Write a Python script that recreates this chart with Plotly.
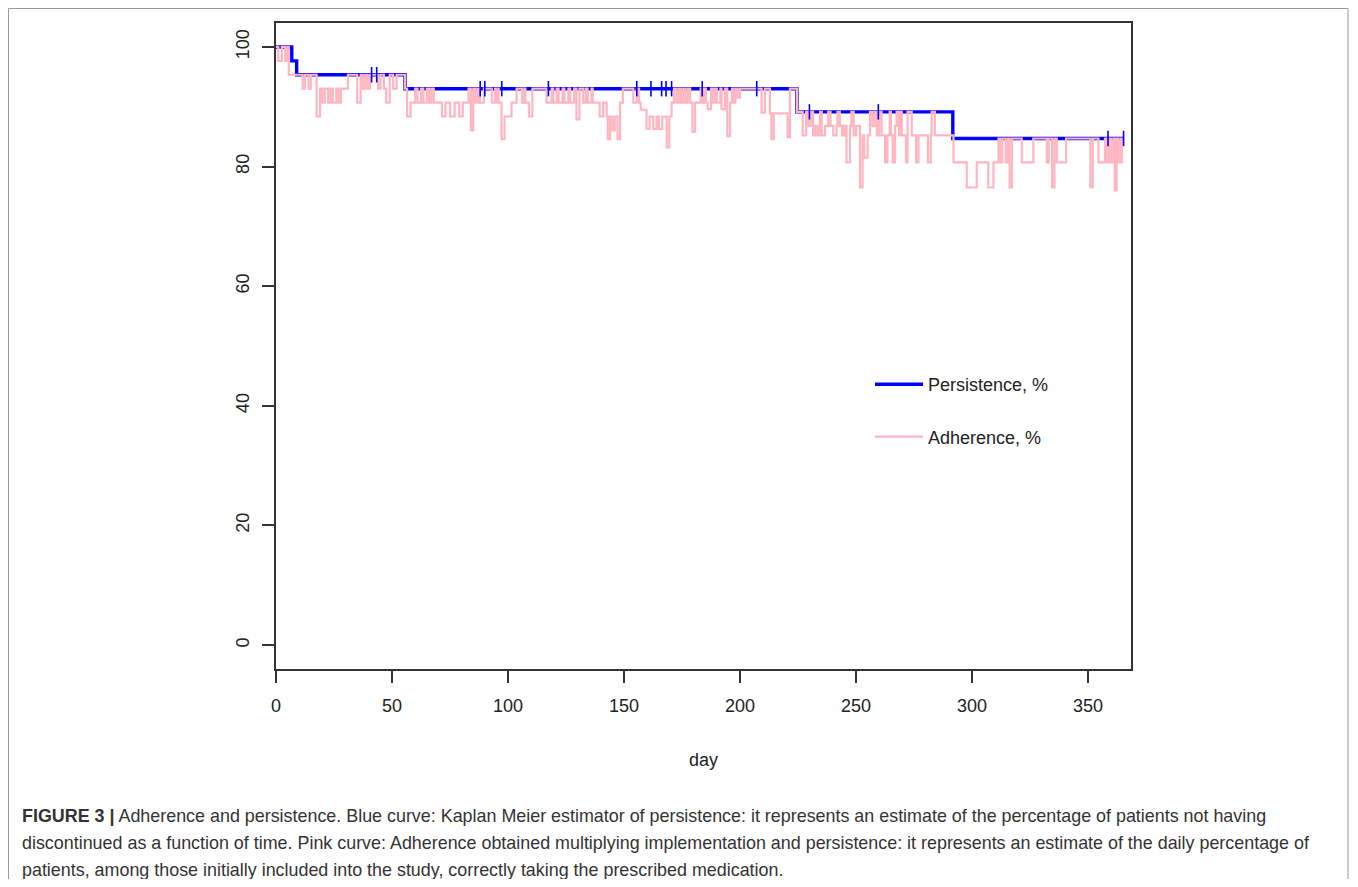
import numpy as np
import plotly.graph_objects as go

# ---------------- data ----------------
# Kaplan-Meier persistence (%) : step change days and levels
pers_day = [0, 6.8, 8.9, 55.6, 224.5, 291.7, 365.5]
pers_pct = [100, 97.67, 95.35, 93.02, 89.15, 84.69, 84.69]

# censoring times (tick marks on the persistence curve)
cens_day = [41.2, 43.4, 88.0, 90.0, 97.3, 117.4, 155.5, 161.6, 166.2, 168.1,
            170.5, 183.7, 207.2, 229.9, 259.6, 358.6, 365.3]

# Adherence (%) : step change days and levels
adh_day = [0, 1, 2.5, 4, 5, 5.5,
           11.5, 12.5, 14, 15, 17.5, 19, 20, 21, 22.5, 23.5, 24.5, 26, 27, 28, 31, 35, 36.5, 37.5,
           38.5, 39.5, 40.5, 44, 45, 46.5, 47.5, 49, 50.5, 52,
           55.6, 56.5, 58, 60, 61, 62.5, 63.5, 65, 66, 67, 68, 71.5, 73, 75, 77, 79, 80.5, 83, 84,
           85, 86, 87,
           87.9, 89.6, 93, 94.4, 94.8, 95.8, 96, 97.2, 98.5, 101.5, 103.7, 106, 107, 107.5, 109,
           110.5, 116.6, 118.8, 119.5, 121, 121.8, 123.5, 124.3, 126, 126.8, 128.5, 129.5, 130.8,
           132.4, 133.5, 134.3, 136, 136.5, 139.5, 141, 142.5, 143, 144, 145, 146, 147.2, 148.3,
           149.5, 154, 155.5, 156.5, 157.2, 159.7, 161, 162.6, 164, 165, 166.5, 168.4, 169.5,
           170.5, 171.5, 172.5, 173.5, 174.5, 175.5, 176.5, 177.5, 178.5, 179.5, 180.6, 183,
           183.8, 184.7, 185.3, 186, 187.5, 188, 189, 190, 191.5, 192, 193.5, 194.5, 195.7, 196.5,
           197, 198, 199, 200, 209.3, 210.7, 212.9, 213.5, 214.5, 220.5, 221.5,
           224.5, 227, 228.5, 229.5, 230.5, 231.5, 232.5, 233.5, 234.5, 235.2, 236.6, 238, 239,
           240.2, 241.6, 242, 243, 244, 245, 245.9, 247.4, 248, 249, 250, 251.7, 252.8, 253.5,
           255, 256, 257, 258, 259, 260, 261, 262.5, 263.5, 264.5, 265, 265.8, 266.8, 267.5,
           268.5, 269, 269.7, 271.5, 272.2, 274, 275.9, 276.9, 281, 282.2, 282.6, 284,
           292, 297.7, 302, 307, 309.2, 311.4, 312, 313, 314.5, 315.5, 316.2, 317.2, 321.4,
           326.4, 332.2, 333, 334.5, 335.5, 336.5, 340.5, 351, 352, 354.5, 357.3, 358, 359, 360,
           361, 361.5, 362.3, 363, 364, 364.5, 365]
adh_pct = [100, 97.67, 100, 97.67, 100, 95.35,
           93.02, 95.35, 93.02, 95.35, 88.37, 93.02, 90.70, 93.02, 90.70, 93.02, 90.70, 93.02, 90.70, 93.02, 95.35, 90.70, 95.35, 93.02,
           95.35, 93.02, 95.35, 93.02, 95.35, 93.02, 90.70, 95.35, 93.02, 95.35,
           93.02, 88.37, 90.70, 93.02, 90.70, 93.02, 90.70, 93.02, 90.70, 93.02, 90.70, 88.37, 90.70, 88.37, 90.70, 88.37, 90.70, 93.02, 86.05,
           93.02, 90.70, 93.02,
           90.70, 93.02, 90.70, 93.02, 90.70, 93.02, 90.70, 84.60, 88.37, 90.70, 93.02, 90.70, 93.02, 90.70, 88.37,
           93.02, 90.70, 93.02, 90.70, 93.02, 90.70, 93.02, 90.70, 93.02, 90.70, 93.02, 87.90, 93.02,
           90.70, 93.02, 90.70, 93.02, 90.70, 88.37, 90.70, 88.37, 84.60, 88.37, 86.05, 88.37, 84.60, 90.70,
           93.02, 90.70, 93.02, 90.70, 89.50, 86.30, 88.37, 86.30, 88.37, 86.30, 88.37, 83.20, 88.37,
           90.70, 93.02, 90.70, 93.02, 90.70, 93.02, 90.70, 93.02, 90.70, 85.80, 90.70, 93.02,
           90.70, 93.02, 90.70, 89.60, 93.02, 90.70, 93.02, 90.70, 93.02, 89.60, 93.02, 85.10, 90.70, 93.02,
           90.70, 93.02, 91.50, 93.02, 89.00, 93.02, 88.90, 84.60, 88.90, 84.90, 93.02,
           89.15, 85.20, 89.15, 86.80, 89.15, 85.20, 86.80, 85.20, 89.15, 85.20, 86.80, 89.15, 86.80,
           85.20, 86.80, 89.15, 86.80, 85.20, 86.80, 80.70, 86.80, 89.15, 85.20, 86.80, 76.50, 85.20, 81.50,
           85.20, 89.15, 86.80, 89.15, 85.20, 89.15, 85.20, 80.70, 85.20, 89.15, 85.20, 80.70, 86.80, 89.15,
           85.20, 89.15, 85.20, 80.70, 89.15, 85.20, 80.70, 85.20, 80.70, 85.20, 89.15, 85.20,
           80.70, 76.50, 80.70, 76.50, 80.70, 84.69, 80.70, 84.69, 80.70, 84.69, 76.50, 84.69, 80.70,
           84.69, 80.70, 84.69, 76.50, 84.69, 80.70, 84.69, 76.50, 84.69, 80.70, 84.69, 80.70, 84.69, 80.70,
           84.69, 76.00, 84.69, 80.70, 84.69, 80.70, 80.70]

x_ticks = [0, 50, 100, 150, 200, 250, 300, 350]
y_ticks = [0, 20, 40, 60, 80, 100]

legend_names = ["Persistence, %", "Adherence, %"]
x_title = "day"
caption_lines = [
    "<b>FIGURE 3 |</b> Adherence and persistence. Blue curve: Kaplan Meier estimator of persistence: it represents an estimate of the percentage of patients not having",
    "discontinued as a function of time. Pink curve: Adherence obtained multiplying implementation and persistence: it represents an estimate of the daily percentage of",
    "patients, among those initially included into the study, correctly taking the prescribed medication.",
]

# ---------------- layout geometry (page pixels; body has an 8px margin) ----------------
OFF = 8
W, H = 1358 - 2 * OFF, 887 - 2 * OFF
L, R, T, B = 276, 1131, 23, 669          # plot box in page pixels
PW, PH = R - L, B - T


def px(x):
    return (x - L) / PW


def py(y):
    return (B - y) / PH


# censor mark heights from the KM step function
idx = np.searchsorted(np.array(pers_day), np.array(cens_day), side="right") - 1
cens_pct = [pers_pct[i] for i in idx]

BLUE = "#0000FF"
PINK = "#FFB6C1"
FONT = "Liberation Sans, Arial, sans-serif"

fig = go.Figure()
fig.add_trace(go.Scatter(x=pers_day, y=pers_pct, mode="lines", line_shape="hv",
                         line=dict(color=BLUE, width=3.4), name=legend_names[0],
                         legendgroup="p"))
fig.add_trace(go.Scatter(x=adh_day, y=adh_pct, mode="lines", line_shape="hv",
                         line=dict(color=PINK, width=2.2), name=legend_names[1],
                         legendgroup="a"))
fig.add_trace(go.Scatter(x=cens_day, y=cens_pct, mode="markers", showlegend=False,
                         marker=dict(symbol="line-ns", size=11,
                                     line=dict(color=BLUE, width=1.6))))

axis_common = dict(showgrid=False, zeroline=False, showline=True, mirror=True,
                   linecolor="#333333", linewidth=1.5, ticks="outside", ticklen=12,
                   tickwidth=1.5, tickcolor="#333333",
                   tickfont=dict(family=FONT, size=18, color="#222222"))

fig.update_xaxes(range=[0, 368.5], tickvals=x_ticks, ticklabelstandoff=8,
                 title=dict(text=x_title, font=dict(family=FONT, size=18, color="#222222"),
                            standoff=38),
                 **axis_common)
fig.update_yaxes(range=[-4, 104], tickvals=y_ticks, tickangle=-90, ticklabelstandoff=6,
                 **axis_common)

frame = dict(color="#9a9a9a", width=1)
top_y = OFF + 0.5
shapes = [
    dict(type="line", xref="paper", yref="paper", x0=px(OFF + 0.5), x1=px(1348),
         y0=py(top_y), y1=py(top_y), line=frame, layer="below"),
    dict(type="line", xref="paper", yref="paper", x0=px(OFF + 0.5), x1=px(OFF + 0.5),
         y0=py(top_y), y1=py(887), line=frame, layer="below"),
    dict(type="line", xref="paper", yref="paper", x0=px(1348), x1=px(1348),
         y0=py(top_y), y1=py(887), line=frame, layer="below"),
]

annotations = []
for i, line in enumerate(caption_lines):
    annotations.append(dict(xref="paper", yref="paper", x=px(20), y=py(816 + 27 * i),
                            xanchor="left", yanchor="middle", showarrow=False, text=line,
                            font=dict(family=FONT, size=17.9, color="#333333")))

fig.update_layout(
    width=W, height=H,
    margin=dict(l=L - OFF, r=W - (R - OFF), t=T - OFF, b=H - (B - OFF), autoexpand=False),
    paper_bgcolor="white", plot_bgcolor="white",
    showlegend=True,
    legend=dict(x=px(870), y=py(366), xanchor="left", yanchor="top",
                bgcolor="rgba(0,0,0,0)", tracegroupgap=26, itemwidth=48,
                font=dict(family=FONT, size=18, color="#222222")),
    shapes=shapes, annotations=annotations,
)

fig.write_html("out.html")
